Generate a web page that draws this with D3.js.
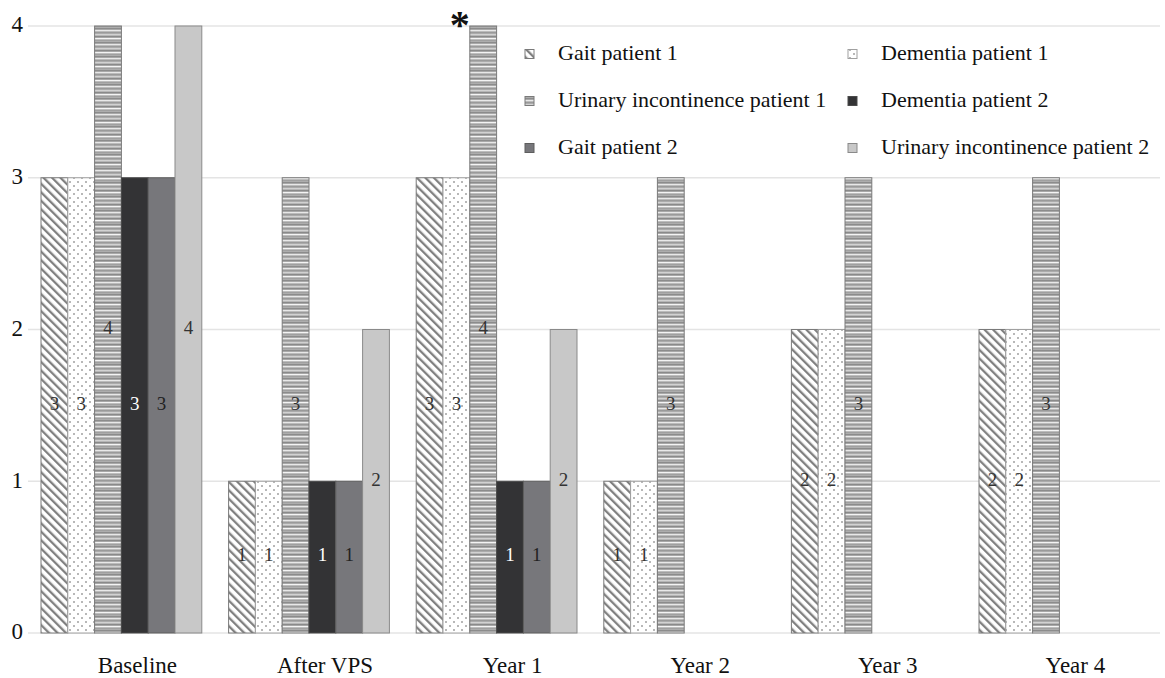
<!DOCTYPE html>
<html><head><meta charset="utf-8">
<script src="https://cdn.jsdelivr.net/npm/d3@7"></script>
<style>body{margin:0;background:#fff;} svg{display:block;} text{font-family:"Liberation Serif","Times New Roman","DejaVu Serif",serif;}</style>
</head><body>
<svg id="chart" width="1165" height="678"></svg>
<script>
const categories = ["Baseline", "After VPS", "Year 1", "Year 2", "Year 3", "Year 4"];
const seriesNames = ["Gait patient 1", "Dementia patient 1", "Urinary incontinence patient 1", "Dementia patient 2", "Gait patient 2", "Urinary incontinence patient 2"];
const gaitP1 = [3, 1, 3, 1, 2, 2];
const dementiaP1 = [3, 1, 3, 1, 2, 2];
const urinaryP1 = [4, 3, 4, 3, 3, 3];
const dementiaP2 = [3, 1, 1, 0, 0, 0];
const gaitP2 = [3, 1, 1, 0, 0, 0];
const urinaryP2 = [4, 2, 2, 0, 0, 0];
const yTicks = [0, 1, 2, 3, 4];
const legendOrder = [0, 1, 2, 3, 4, 5];
const seriesValues = [gaitP1, dementiaP1, urinaryP1, dementiaP2, gaitP2, urinaryP2];

const svg = d3.select("#chart");
const defs = svg.append("defs");

// patterns
const pDiag = defs.append("pattern").attr("id","pDiag").attr("patternUnits","userSpaceOnUse")
  .attr("width",6).attr("height",6).attr("patternTransform","rotate(-45)");
pDiag.append("rect").attr("width",6).attr("height",6).attr("fill","#fff");
pDiag.append("rect").attr("x",0).attr("width",2.3).attr("height",6).attr("fill","#808080");

const pDot = defs.append("pattern").attr("id","pDot").attr("patternUnits","userSpaceOnUse")
  .attr("width",8).attr("height",8);
pDot.append("rect").attr("width",8).attr("height",8).attr("fill","#fff");
pDot.append("circle").attr("cx",2).attr("cy",2).attr("r",1).attr("fill","#a0a0a0");
pDot.append("circle").attr("cx",6).attr("cy",6).attr("r",1).attr("fill","#a0a0a0");

const pHor = defs.append("pattern").attr("id","pHor").attr("patternUnits","userSpaceOnUse")
  .attr("width",10).attr("height",14);
pHor.append("rect").attr("width",10).attr("height",14).attr("fill","#b0b0b0");
[[0,"#8c8c8c"],[2,"#e8e8e8"],[4,"#9a9a9a"],[6,"#d2d2d2"],[8,"#8a8a8a"],[10,"#f4f4f4"],[12,"#a0a0a0"]].forEach(([y,c])=>{
  pHor.append("rect").attr("y",y).attr("width",10).attr("height",1.2).attr("fill",c);
});

const fills = ["url(#pDiag)","url(#pDot)","url(#pHor)","#333335","#77777b","#c8c8c8"];
const strokes = ["#7a7a7a","#a0a0a0","#7a7a7a","#4a4a4a","#5e5e5e","#8a8a8a"];
const labelColors = ["#333","#333","#333","#fff","#222","#333"];

const x0 = d3.scaleBand().domain(categories).range([27.6, 1153.2]).padding(0);
const x1 = d3.scaleBand().domain(seriesNames).range([0, x0.bandwidth()]).paddingInner(0).paddingOuter(0.5);
const y = d3.scaleLinear().domain([0, 4]).range([633, 26]);

// gridlines
svg.append("g").selectAll("line").data(yTicks).join("line")
  .attr("x1", 28).attr("x2", 1160)
  .attr("y1", d => y(d)).attr("y2", d => y(d))
  .attr("stroke", "#e4e4e4").attr("stroke-width", 1.5);

// y labels
svg.append("g").selectAll("text").data(yTicks).join("text")
  .attr("x", 23).attr("y", d => y(d) + 1)
  .attr("text-anchor","end").attr("dominant-baseline","middle")
  .attr("font-size", 23).attr("fill","#111").text(d => d);

// bars
const rows = [];
categories.forEach((c, ci) => seriesNames.forEach((s, si) => {
  rows.push({c, s, si, v: seriesValues[si][ci]});
}));
const gb = svg.append("g");
gb.selectAll("rect").data(rows.filter(d => d.v > 0)).join("rect")
  .attr("x", d => x0(d.c) + x1(d.s))
  .attr("y", d => y(d.v))
  .attr("width", x1.bandwidth())
  .attr("height", d => y(0) - y(d.v))
  .attr("fill", d => fills[d.si])
  .attr("stroke", d => strokes[d.si]).attr("stroke-width", 1);

// value labels
svg.append("g").selectAll("text").data(rows.filter(d => d.v > 0)).join("text")
  .attr("x", d => x0(d.c) + x1(d.s) + x1.bandwidth()/2)
  .attr("y", d => (y(d.v) + y(0))/2)
  .attr("text-anchor","middle").attr("dominant-baseline","middle")
  .attr("font-size", 19).attr("fill", d => labelColors[d.si])
  .text(d => d.v);

// category labels
svg.append("g").selectAll("text").data(categories).join("text")
  .attr("x", d => x0(d) + x0.bandwidth()/2 + 16)
  .attr("y", 673)
  .attr("text-anchor","middle").attr("font-size", 23).attr("fill","#111")
  .text(d => d);

// asterisk above Year 1 urinary incontinence patient 1
svg.append("text")
  .attr("x", x0("Year 1") + x1(seriesNames[2]) - 10)
  .attr("y", y(urinaryP1[2]) + 12)
  .attr("text-anchor","middle").attr("font-size", 40).attr("font-weight","bold").attr("fill","#111")
  .text("*");

// legend
const legendX = [525, 848];
const legendY = [54, 101, 148];
const lg = svg.append("g");
legendOrder.forEach((si, i) => {
  const col = i % 2, row = Math.floor(i / 2);
  lg.append("rect").attr("x", legendX[col]).attr("y", legendY[row] - 4.5)
    .attr("width", 9).attr("height", 9)
    .attr("fill", fills[si]).attr("stroke", strokes[si]).attr("stroke-width", 1);
  lg.append("text").attr("x", legendX[col] + 33).attr("y", legendY[row] + 1)
    .attr("dominant-baseline","middle").attr("font-size", 22).attr("fill","#111")
    .text(seriesNames[si]);
});
</script>
</body></html>
